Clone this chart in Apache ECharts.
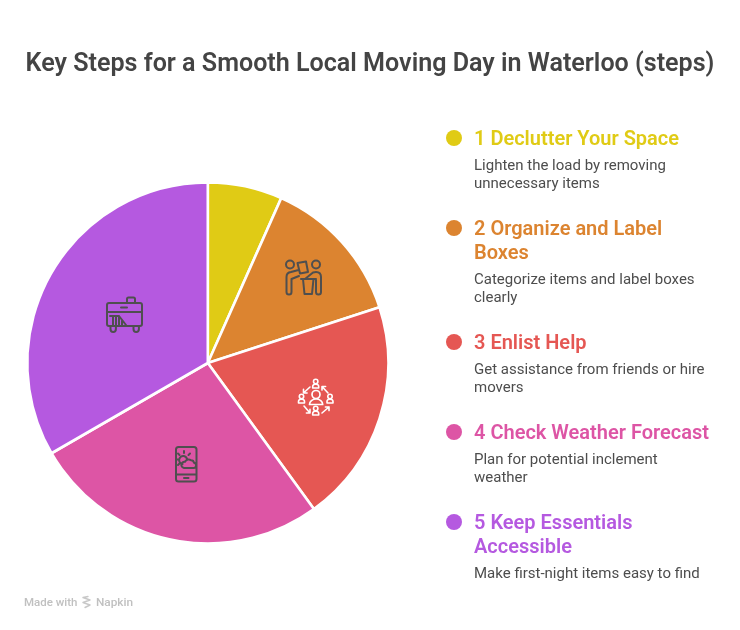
<!DOCTYPE html>
<html>
<head>
<meta charset="utf-8">
<style>html,body{margin:0;padding:0;background:#fff}#c{width:740px;height:630px}</style>
<script src="https://cdn.jsdelivr.net/npm/echarts@6/dist/echarts.min.js"></script>
</head>
<body>
<div id="c"></div>
<script>
const chartTitle = 'Key Steps for a Smooth Local Moving Day in Waterloo (steps)';
const categories = ['1 Declutter Your Space', '2 Organize and Label Boxes', '3 Enlist Help', '4 Check Weather Forecast', '5 Keep Essentials Accessible'];
const values = [1, 2, 3, 4, 5];
const colors = ['#e0cb15', '#dc8430', '#e55753', '#dd55a5', '#b559e0'];
const headingLines = [['1 Declutter Your Space'], ['2 Organize and Label', 'Boxes'], ['3 Enlist Help'], ['4 Check Weather Forecast'], ['5 Keep Essentials', 'Accessible']];
const descLines = [['Lighten the load by removing', 'unnecessary items'], ['Categorize items and label boxes', 'clearly'], ['Get assistance from friends or hire', 'movers'], ['Plan for potential inclement', 'weather'], ['Make first-night items easy to find']];
const headingY = [139.5, 229.5, 343.5, 433.5, 523.5];
const descY = [166, 280, 370, 460, 574];

const INK = '#4f4f4f';
let shapeCount = 0;
function icon(d, color, w) {
  const name = 'pageIcon' + (shapeCount++);
  echarts.graphic.registerShape(name, echarts.graphic.extendPath(d, {}));
  return { type: name, silent: true, z: 20, style: { fill: 'none', stroke: color, lineWidth: w, lineCap: 'round', lineJoin: 'round' } };
}
function person(x, y) {
  return `M${x-2.2} ${y-2.5}a2.2 2.2 0 1 0 4.4 0a2.2 2.2 0 1 0 -4.4 0ZM${x-3} ${y+4}v-1.6a3 2.2 0 0 1 6 0v1.6Z`;
}

const furniture = 'M109 303H140a2 2 0 0 1 2 2V324a2 2 0 0 1 -2 2H109a2 2 0 0 1 -2 -2V305a2 2 0 0 1 2 -2ZM107 312H142M121 307.5H127M127 303V299a1.5 1.5 0 0 1 1.5 -1.5H133.5a1.5 1.5 0 0 1 1.5 1.5V303'
  + 'M110.5 326V329a2.7 3 0 0 0 5.4 0V326M133.5 326V329a2.7 3 0 0 0 5.4 0V326'
  + 'M110 316H119L126 325M113 316V325M116 316V325M119 316V325M122 321V325';
const movers = 'M290 260.5a4 4 0 1 0 0.01 0ZM316 260.5a4 4 0 1 0 0.01 0Z'
  + 'M298.5 270L291 272Q286.5 272.5 286.5 277V292a2.5 2.5 0 0 0 5 0V279L299 276'
  + 'M305 279L313 272.5Q315 272 316 272Q321 272 321 277V292a2.5 2.5 0 0 1 -5 0V280'
  + 'M297.5 263L306 261.5L308 272L300 273.5ZM301 279H316M303 279L304.5 294H312L313.5 279';
const phone = 'M178.5 447H194a2.5 2.5 0 0 1 2.5 2.5V479a2.5 2.5 0 0 1 -2.5 2.5H178.5a2.5 2.5 0 0 1 -2.5 -2.5V449.5a2.5 2.5 0 0 1 2.5 -2.5ZM176 474.5H196.5M184 478H188.5'
  + 'M182.5 464a4 4 0 1 1 4.5 -5M184 468H193a2.6 2.6 0 0 0 1 -5.2a3 3 0 0 0 -3 -2.5a4 4 0 0 0 -6 1.5a3 3 0 0 0 -1 6.2ZM178 453.5l1.5 1.5M184 451v2M190 453.5l-1.5 1.5M176 459.5h2M178 465l1.5 -1.5';
const arrows = 'M310 387L303.5 393M303.5 393h3.6M303.5 393v-3.6'
  + 'M328 393L322 386.5M322 386.5h3.6M322 386.5v3.6'
  + 'M304 406L310 413M310 413h-3.6M310 413v-3.6'
  + 'M322 413L329 407M329 407h-3.6M329 407v3.6';
const people = person(315.7, 384) + person(301.5, 399) + person(330, 399) + person(315.7, 411);
const center = 'M316 390.5a4 4 0 1 0 0.01 0ZM309.5 404.5a6.6 5.5 0 0 1 13.2 0Z';
const logo = 'M83 597.5L90 600L83 602.5L90 605L85 607.5M83 597.5L88 596.5';

const graphics = [];
headingLines.forEach((lines, i) => {
  graphics.push({ type: 'circle', silent: true, shape: { cx: 454, cy: headingY[i] - 1.5, r: 8 }, style: { fill: colors[i] } });
  lines.forEach((t, j) => graphics.push({ type: 'text', silent: true, x: 474, y: headingY[i] + j * 24, style: { text: t, fill: colors[i], font: '600 20px Roboto', textVerticalAlign: 'middle' } }));
  descLines[i].forEach((t, j) => graphics.push({ type: 'text', silent: true, x: 474, y: descY[i] + j * 18, style: { text: t, fill: '#4d4d4d', font: '400 15px Roboto', textVerticalAlign: 'middle' } }));
});
graphics.push({ type: 'text', silent: true, x: 24, y: 603, style: { text: 'Made with', fill: '#c0c0c0', font: '500 11.5px Roboto', textVerticalAlign: 'middle' } });
graphics.push({ type: 'text', silent: true, x: 96, y: 603, style: { text: 'Napkin', fill: '#c0c0c0', font: '500 11.8px Roboto', textVerticalAlign: 'middle' } });
graphics.push(icon(logo, '#c8c8c8', 1.4));
graphics.push(icon(furniture, INK, 2));
graphics.push(icon(movers, INK, 2));
graphics.push(icon(phone, INK, 2));
graphics.push(icon(arrows, '#ffffff', 1.6));
graphics.push(icon(people, '#ffffff', 1.6));
graphics.push(icon(center, '#ffffff', 1.7));

const chart = echarts.init(document.getElementById('c'), null, { renderer: 'canvas' });
chart.setOption({
  animation: false,
  backgroundColor: '#ffffff',
  title: { text: chartTitle, left: 'center', top: 47, textStyle: { fontFamily: 'Roboto', fontSize: 25.1, fontWeight: 600, color: '#444444' } },
  series: [{
    type: 'pie',
    center: [207.8, 363],
    radius: [0, 180.5],
    startAngle: 90,
    clockwise: true,
    silent: true,
    label: { show: false },
    labelLine: { show: false },
    itemStyle: { borderColor: '#ffffff', borderWidth: 2.6 },
    data: categories.map((name, i) => ({ name, value: values[i], itemStyle: { color: colors[i] } }))
  }],
  graphic: { elements: graphics }
});
</script>
</body>
</html>
